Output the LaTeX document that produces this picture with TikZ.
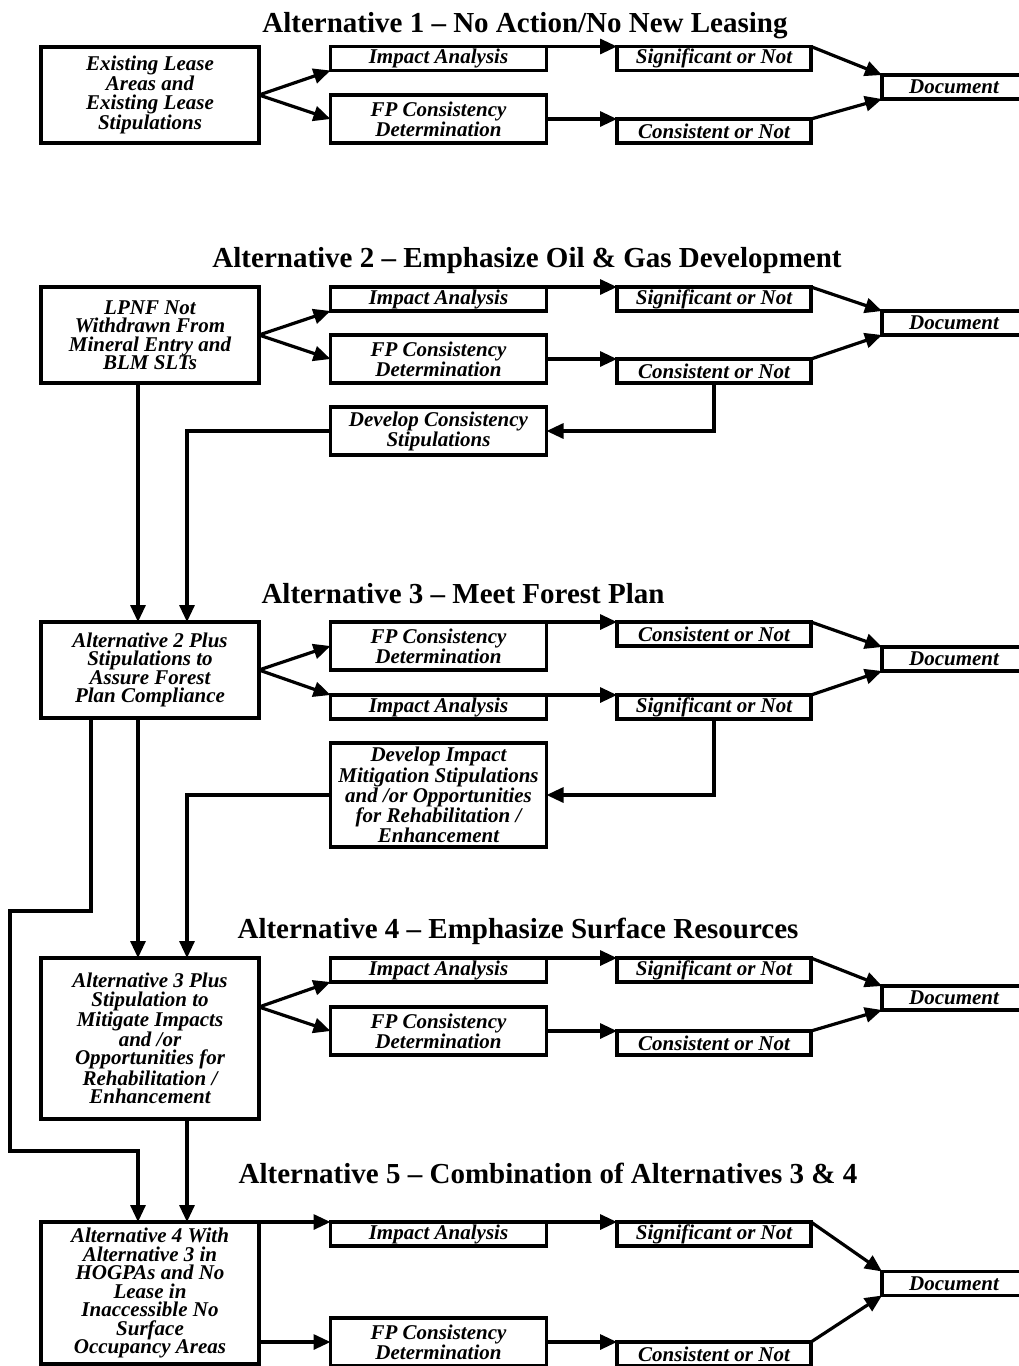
\documentclass[tikz,border=0pt]{standalone}
\usepackage{fontspec}
\setmainfont{Liberation Serif}
\usetikzlibrary{arrows.meta}

\begin{document}
\begin{tikzpicture}[x=1pt, y=-1pt,
    box/.style={draw, rectangle, line width=3.2pt, inner sep=0pt, outer sep=0pt, align=center,
      font=\bfseries\itshape\fontsize{21}{18.5}\selectfont},
    srcbox/.style={box, minimum width=218pt},
    midbox/.style={box, minimum width=216pt},
    endbox/.style={box, minimum width=194pt, minimum height=24pt},
    docbox/.style={box, minimum width=144pt, minimum height=24pt},
    heading/.style={anchor=base, font=\bfseries\fontsize{29}{32}\selectfont},
    arr/.style={-{Triangle[length=17pt,width=15pt]}, line width=3.2pt}]
\useasboundingbox (0,0) rectangle (1019,1366);
\clip (0,0) rectangle (1019,1366);

% Alternative 1
\node[heading] (title1) at (525,32) {Alternative 1 -- No Action/No New Leasing};
\node[srcbox, minimum height=96pt] (src1) at (150,95) {Existing Lease\\Areas and\\Existing Lease\\Stipulations};
\node[midbox, minimum height=24pt] (imp1) at (438.5,58.5) {Impact Analysis};
\node[midbox, minimum height=48pt] (fp1) at (438.5,119) {FP Consistency\\Determination};
\node[endbox] (sig1) at (714,58.5) {Significant or Not};
\node[endbox] (con1) at (714,131) {Consistent or Not};
\node[docbox] (doc1) at (954,87) {Document};

\draw[arr] (src1.east) -- (imp1.south west);
\draw[arr] (src1.east) -- (fp1.west);
\draw[arr] (imp1.north east) -- (sig1.north west);
\draw[arr] (fp1.east) -- (con1.north west);
\draw[arr] (sig1.north east) -- (doc1.north west);
\draw[arr] (con1.north east) -- (doc1.south west);

% Alternative 2
\node[heading] (title2) at (527,267) {Alternative 2 -- Emphasize Oil \& Gas Development};
\node[srcbox, minimum height=96pt] (src2) at (150,335) {LPNF Not\\Withdrawn From\\Mineral Entry and\\BLM SLTs};
\node[midbox, minimum height=24pt] (imp2) at (438.5,299) {Impact Analysis};
\node[midbox, minimum height=48pt] (fp2) at (438.5,359) {FP Consistency\\Determination};
\node[endbox] (sig2) at (714,299) {Significant or Not};
\node[endbox] (con2) at (714,371) {Consistent or Not};
\node[docbox] (doc2) at (954,323) {Document};
\node[midbox, minimum height=48pt] (dev2) at (438.5,431) {Develop Consistency\\Stipulations};

\draw[arr] (src2.east) -- (imp2.south west);
\draw[arr] (src2.east) -- (fp2.west);
\draw[arr] (imp2.north east) -- (sig2.north west);
\draw[arr] (fp2.east) -- (con2.north west);
\draw[arr] (sig2.north east) -- (doc2.north west);
\draw[arr] (con2.north east) -- (doc2.south west);
\draw[arr] (con2.south) |- (dev2.east);

% Alternative 3
\node[heading] (title3) at (463,603) {Alternative 3 -- Meet Forest Plan};
\node[srcbox, minimum height=96pt] (src3) at (150,670) {Alternative 2 Plus\\Stipulations to\\Assure Forest\\Plan Compliance};
\node[midbox, minimum height=48pt] (fp3) at (438.5,646) {FP Consistency\\Determination};
\node[midbox, minimum height=24pt] (imp3) at (438.5,707) {Impact Analysis};
\node[endbox] (con3) at (714,634) {Consistent or Not};
\node[endbox] (sig3) at (714,707) {Significant or Not};
\node[docbox] (doc3) at (954,659) {Document};
\node[midbox, minimum height=104pt] (dev3) at (438.5,795) {Develop Impact\\Mitigation Stipulations\\and /or Opportunities\\for Rehabilitation /\\Enhancement};

\draw[arr] ([xshift=-12pt]src2.south) -- ([xshift=-12pt]src3.north);
\draw[arr] (dev2.west) -| ([xshift=37pt]src3.north);
\draw[arr] (src3.east) -- (fp3.west);
\draw[arr] (src3.east) -- (imp3.north west);
\draw[arr] (fp3.north east) -- (con3.north west);
\draw[arr] (imp3.north east) -- (sig3.north west);
\draw[arr] (con3.north east) -- (doc3.north west);
\draw[arr] (sig3.north east) -- (doc3.south west);
\draw[arr] (sig3.south) |- (dev3.east);

% Alternative 4
\node[heading] (title4) at (518,938) {Alternative 4 -- Emphasize Surface Resources};
\node[srcbox, minimum height=161pt] (src4) at (150,1038.5) {Alternative 3 Plus\\Stipulation to\\Mitigate Impacts\\and /or\\Opportunities for\\Rehabilitation /\\Enhancement};
\node[midbox, minimum height=24pt] (imp4) at (438.5,970) {Impact Analysis};
\node[midbox, minimum height=48pt] (fp4) at (438.5,1031) {FP Consistency\\Determination};
\node[endbox] (sig4) at (714,970) {Significant or Not};
\node[endbox] (con4) at (714,1043) {Consistent or Not};
\node[docbox] (doc4) at (954,998) {Document};
\coordinate (apex4) at (259,1007);

\draw[arr] ([xshift=-12pt]src3.south) -- ([xshift=-12pt]src4.north);
\draw[arr] (dev3.west) -| ([xshift=37pt]src4.north);
\draw[arr] (apex4) -- (imp4.south west);
\draw[arr] (apex4) -- (fp4.west);
\draw[arr] (imp4.north east) -- (sig4.north west);
\draw[arr] (fp4.east) -- (con4.north west);
\draw[arr] (sig4.north east) -- (doc4.north west);
\draw[arr] (con4.north east) -- (doc4.south west);

% Alternative 5
\node[heading] (title5) at (548,1183) {Alternative 5 -- Combination of Alternatives 3 \& 4};
\node[srcbox, minimum height=142pt] (src5) at (150,1293) {Alternative 4 With\\Alternative 3 in\\HOGPAs and No\\Lease in\\Inaccessible No\\Surface\\Occupancy Areas};
\node[midbox, minimum height=24pt] (imp5) at (438.5,1234) {Impact Analysis};
\node[midbox, minimum height=48pt] (fp5) at (438.5,1342) {FP Consistency\\Determination};
\node[endbox] (sig5) at (714,1234) {Significant or Not};
\node[endbox] (con5) at (714,1354) {Consistent or Not};
\node[docbox] (doc5) at (954,1283.5) {Document};
\coordinate (loop1) at (10,911);
\coordinate (loop2) at (10,1151);

\draw[arr] ([xshift=-59pt]src3.south) |- (loop1) -- (loop2) -| ([xshift=-12pt]src5.north);
\draw[arr] ([xshift=37pt]src4.south) -- ([xshift=37pt]src5.north);
\draw[arr] (src5.north east) -- (imp5.north west);
\draw[arr] (src5.east |- fp5.west) -- (fp5.west);
\draw[arr] (imp5.north east) -- (sig5.north west);
\draw[arr] (fp5.east) -- (con5.north west);
\draw[arr] (sig5.north east) -- (doc5.north west);
\draw[arr] (con5.north east) -- (doc5.south west);
\end{tikzpicture}
\end{document}
